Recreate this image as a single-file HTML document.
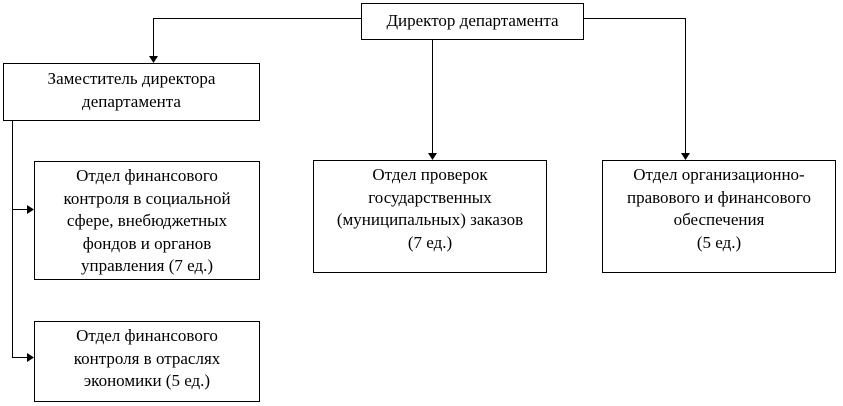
<!DOCTYPE html>
<html><head><meta charset="utf-8"><style>
body{margin:0;background:#fff;}
#c{position:relative;width:843px;height:406px;overflow:hidden;font-family:"Liberation Serif",serif;font-size:17px;color:#000;}
.b{position:absolute;border:1px solid #000;box-sizing:border-box;text-align:center;line-height:22.5px;background:#fff;}
</style></head><body><div id="c">
<svg width="843" height="406" style="position:absolute;left:0;top:0">
<g stroke="#000" stroke-width="1" fill="none">
<path d="M361 18.5H153.5V57"/>
<path d="M584 18.5H685.5V154"/>
<path d="M432.5 39V154"/>
<path d="M12.5 120V358"/>
<path d="M12 209.5H28"/>
<path d="M12 357.5H28"/>
</g>
<g fill="#000">
<path d="M149 56H158L153.5 63Z"/>
<path d="M681 153H690L685.5 160Z"/>
<path d="M428 153H437L432.5 160Z"/>
<path d="M27 205V214L34 209.5Z"/>
<path d="M27 353V362L34 357.5Z"/>
</g>
</svg>
<div class="b" style="left:361px;top:3px;width:223px;height:37px;padding-top:6px">Директор департамента</div>
<div class="b" style="left:3px;top:63px;width:257px;height:58px;padding-top:4px">Заместитель директора<br>департамента</div>
<div class="b" style="left:34px;top:161px;width:226px;height:119px;padding-top:3px">Отдел финансового<br>контроля в социальной<br>сфере, внебюджетных<br>фондов и органов<br>управления (7 ед.)</div>
<div class="b" style="left:34px;top:321px;width:226px;height:81px;padding-top:3px">Отдел финансового<br>контроля в отраслях<br>экономики (5 ед.)</div>
<div class="b" style="left:313px;top:160px;width:234px;height:113px;padding-top:3px">Отдел проверок<br>государственных<br>(муниципальных) заказов<br>(7 ед.)</div>
<div class="b" style="left:602px;top:160px;width:234px;height:113px;padding-top:3px">Отдел организационно-<br>правового и финансового<br>обеспечения<br>(5 ед.)</div>
</div></body></html>
